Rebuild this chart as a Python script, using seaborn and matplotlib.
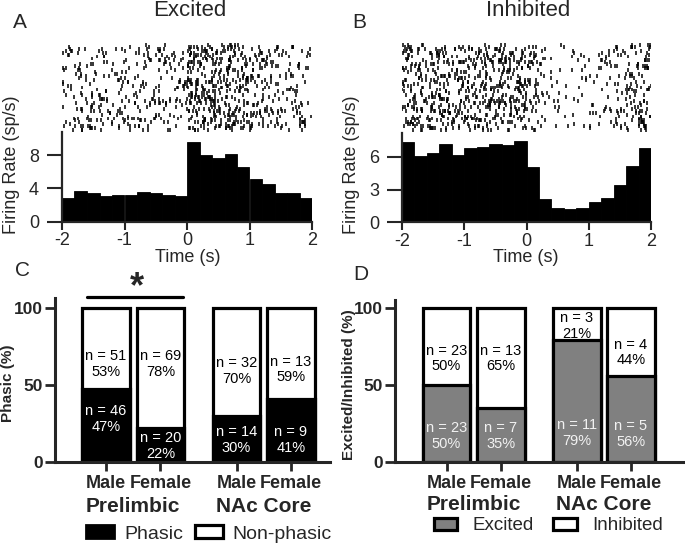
import numpy as np
import pandas as pd
import matplotlib
matplotlib.use("Agg")
import matplotlib.pyplot as plt
from matplotlib.patches import Patch
import seaborn as sns

# PSTH firing rates (sp/s), 0.2 s bins from -2 to 2 s
excited_rate = [2.8, 3.7, 3.5, 3.1, 3.2, 3.2, 3.6, 3.5, 3.2, 3.1,
                9.6, 8.0, 7.6, 8.1, 6.6, 5.1, 4.5, 3.5, 3.5, 2.9]
inhibited_rate = [7.4, 6.05, 6.4, 7.2, 6.2, 6.8, 6.9, 7.2, 7.1, 7.5,
                  5.1, 2.1, 1.3, 1.2, 1.3, 1.9, 2.2, 3.4, 5.2, 6.8]

sexes = ["Male", "Female", "Male", "Female"]
regions = ["Prelimbic", "NAc Core"]

phasic_n = [46, 20, 14, 9]
phasic_pct = [47, 22, 30, 41]
nonphasic_n = [51, 69, 32, 13]
nonphasic_pct = [53, 78, 70, 59]

excited_n = [23, 7, 11, 5]
excited_pct = [50, 35, 79, 56]
inhibited_n = [23, 13, 3, 4]
inhibited_pct = [50, 65, 21, 44]

W, H = 685, 545
GREY = "#808080"

sns.set_style("ticks")
plt.rcParams["font.family"] = ["Liberation Sans", "DejaVu Sans"]
plt.rcParams["axes.unicode_minus"] = False

fig = plt.figure(figsize=(W / 100, H / 100), dpi=100)


def px_axes(left, top, right, bottom):
    return fig.add_axes([left / W, 1 - bottom / H, (right - left) / W, (bottom - top) / H])


def ftext(x, y, s, **kw):
    fig.text(x / W, 1 - y / H, s, **kw)


edges = np.round(np.arange(-2, 2.001, 0.2), 2)
centers = (edges[:-1] + edges[1:]) / 2
N_TRIALS = 45


def _frac_hash(a, b, c):
    # deterministic scrambling used only to spread raster ticks inside a bin
    x = np.sin(a * 12.9898 + b * 78.233 + c * 37.719) * 43758.5453
    return x - np.floor(x)


def raster_from_rates(rates, n_trials=N_TRIALS):
    # spikes per bin follow the PSTH rate; positions inside the bin are scrambled
    trials = [[] for _ in range(n_trials)]
    for b, r in enumerate(rates):
        n = int(round(r * 0.2 * n_trials))
        for k in range(1, n + 1):
            u = _frac_hash(k, b, 1.0)
            v = _frac_hash(k, b, 2.0)
            trials[int(u * n_trials)].append(edges[b] + 0.2 * v)
    return trials


def psth_panel(rates, hist_box, raster_box, yticks, ymax, title, letter, lab_x, tx):
    ax_r = px_axes(*raster_box)
    ax_r.eventplot(raster_from_rates(rates), colors="black", linelengths=2.0, linewidths=1.1)
    ax_r.set_xlim(-2, 2)
    ax_r.set_ylim(-1, N_TRIALS)
    ax_r.axis("off")

    ax = px_axes(*hist_box)
    df = pd.DataFrame({"t": centers, "rate": rates})
    sns.histplot(data=df, x="t", weights="rate", binwidth=0.2, binrange=(-2, 2),
                 color="black", alpha=1, edgecolor="black", linewidth=0.6, ax=ax)
    ax.set_xlim(-2, 2)
    ax.set_ylim(0, ymax)
    ax.set_xticks([-2, -1, 0, 1, 2])
    ax.set_xticklabels(["-2", "-1", "0", "1", "2"])
    ax.set_yticks(yticks)
    ax.set_xlabel("")
    ax.set_ylabel("")
    sns.despine(ax=ax)
    for s in ["left", "bottom"]:
        ax.spines[s].set_linewidth(1.6)
    ax.tick_params(axis="y", length=10.5, width=1.5, pad=6, labelsize=13)
    ax.tick_params(axis="x", length=6, width=1.5, pad=1.5, labelsize=13)

    ftext(tx, 11, title, fontsize=16, ha="center", va="center")
    ftext(lab_x + 8, 23, letter, fontsize=15, ha="center", va="center")
    ftext(lab_x, 165, "Firing Rate (sp/s)", fontsize=13, rotation=90, ha="center", va="center")
    ftext(tx - 2, 257, "Time (s)", fontsize=13, ha="center", va="center")


psth_panel(excited_rate, (62, 131.7, 312, 221.7), (62, 43, 312, 132), [0, 4, 8], 10.8,
           "Excited", "A", 12, 190)
psth_panel(inhibited_rate, (402, 133, 651, 222.3), (402, 43, 651, 132), [0, 3, 6], 8.2,
           "Inhibited", "B", 351, 528)

positions = [0, 1, 2.4, 3.4]


def stacked_panel(box, xlim, ymax, low_pct, low_n, high_pct, high_n, low_color,
                  low_text_color, low_y, high_y, ylabel, ylabel_x, group_y):
    ax = px_axes(*box)
    df = pd.DataFrame({"pos": positions, "total": [100] * 4, "low": low_pct})
    sns.barplot(data=df, x="pos", y="total", native_scale=True, width=0.88, color="white",
                saturation=1, edgecolor="black", linewidth=2.3, errorbar=None, ax=ax)
    sns.barplot(data=df, x="pos", y="low", native_scale=True, width=0.88, color=low_color,
                saturation=1, edgecolor="black", linewidth=2.3, errorbar=None, ax=ax)
    for i, p in enumerate(positions):
        ax.text(p, high_y[i], f"n = {high_n[i]}\n{high_pct[i]}%", ha="center", va="center",
                fontsize=10.5, color="black", linespacing=1.15)
        ax.text(p, low_y[i], f"n = {low_n[i]}\n{low_pct[i]}%", ha="center", va="center",
                fontsize=10.5, color=low_text_color, linespacing=1.15)
    ax.set_xlim(*xlim)
    ax.set_ylim(0, ymax)
    ax.set_yticks([0, 50, 100])
    ax.set_xticks(positions)
    ax.set_xticklabels(sexes, fontweight="bold", fontsize=13)
    for lab in ax.get_yticklabels():
        lab.set_fontweight("bold")
    ax.set_xlabel("")
    ax.set_ylabel(ylabel, fontweight="bold", fontsize=11)
    ax.yaxis.set_label_coords(ylabel_x, 0.48)
    sns.despine(ax=ax)
    for s in ["left", "bottom"]:
        ax.spines[s].set_linewidth(2.2)
    ax.tick_params(axis="y", length=7, width=2, pad=1.5, labelsize=12.5)
    ax.tick_params(axis="x", length=6.5, width=2, pad=3, labelsize=13)
    trans = ax.get_xaxis_transform()
    for g, name in enumerate(regions):
        gx = (positions[2 * g] + positions[2 * g + 1]) / 2
        ax.text(gx, group_y, name, transform=trans, ha="center", va="center",
                fontsize=15, fontweight="bold")
    return ax


ax_c = stacked_panel((55, 298.4, 330, 462), (-0.94, 4.12), 106, phasic_pct, phasic_n,
                     nonphasic_pct, nonphasic_n, "black", "white",
                     [27.8, 10.5, 14.4, 14.4], [63.6, 63.6, 59, 60], "Phasic (%)",
                     -0.144, -0.27)
ax_c.plot([-0.35, 1.42], [107, 107], color="black", lw=2.3, clip_on=False)
ax_c.text(0.56, 113, "*", ha="center", va="center", fontsize=26, fontweight="bold")

ax_d = stacked_panel((395, 300, 683, 462), (-0.95, 4.36), 105, excited_pct, excited_n,
                     inhibited_pct, inhibited_n, GREY, "#f2f2f2",
                     [17, 17, 18.7, 18], [67, 67, 88, 71], "Excited/Inhibited (%)",
                     -0.134, -0.265)

ftext(22, 270, "C", fontsize=15, ha="center", va="center")
ftext(361, 274, "D", fontsize=15, ha="center", va="center")

leg_c = [Patch(facecolor="black", edgecolor="black", linewidth=2, label="Phasic"),
         Patch(facecolor="white", edgecolor="black", linewidth=2.3, label="Non-phasic")]
fig.legend(handles=leg_c, loc="center left", bbox_to_anchor=(86 / W, 1 - 534 / H), ncol=2,
           frameon=False, fontsize=14, handlelength=1.45, handleheight=0.65,
           handletextpad=0.5, columnspacing=0.62, borderpad=0, borderaxespad=0)

leg_d = [Patch(facecolor=GREY, edgecolor="black", linewidth=2.3, label="Excited"),
         Patch(facecolor="white", edgecolor="black", linewidth=2.3, label="Inhibited")]
fig.legend(handles=leg_d, loc="center left", bbox_to_anchor=(434 / W, 1 - 526 / H), ncol=2,
           frameon=False, fontsize=13.5, handlelength=1.25, handleheight=0.65,
           handletextpad=0.8, columnspacing=1.05, borderpad=0, borderaxespad=0)

fig.savefig("out.png", dpi=100)
